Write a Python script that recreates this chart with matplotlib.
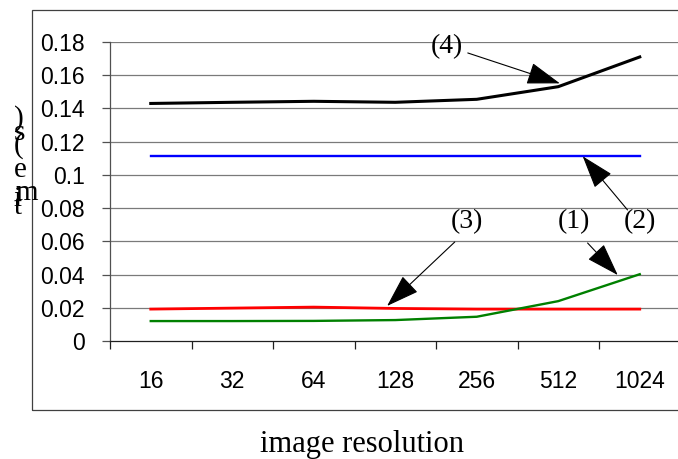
import matplotlib
matplotlib.use("Agg")
import matplotlib.pyplot as plt
from matplotlib.patches import Rectangle

# Data
resolutions = ["16", "32", "64", "128", "256", "512", "1024"]
series_1 = [0.0120, 0.0120, 0.0121, 0.0126, 0.0146, 0.0240, 0.0402]   # green
series_2 = [0.1112, 0.1112, 0.1112, 0.1112, 0.1112, 0.1112, 0.1112]   # blue
series_3 = [0.0192, 0.0198, 0.0204, 0.0196, 0.0192, 0.0192, 0.0192]   # red
series_4 = [0.1430, 0.1437, 0.1443, 0.1437, 0.1455, 0.1531, 0.1710]   # black
y_ticks = [0, 0.02, 0.04, 0.06, 0.08, 0.1, 0.12, 0.14, 0.16, 0.18]
y_tick_labels = ["0", "0.02", "0.04", "0.06", "0.08", "0.1", "0.12", "0.14", "0.16", "0.18"]

W, H = 678, 459
fig = plt.figure(figsize=(W / 100, H / 100), dpi=100)

# outer chart frame (runs off the right edge)
fig.patches.append(Rectangle((32 / W, (H - 410) / H), 1.2, 400 / H,
                             transform=fig.transFigure, fill=False,
                             edgecolor="#404040", linewidth=0.9))

ax = fig.add_axes([110 / W, (H - 341) / H, 570.5 / W, 299 / H])
ax.set_facecolor("none")
x = list(range(len(resolutions)))

for v in y_ticks[1:]:
    ax.axhline(v, color="#7a7a7a", linewidth=0.9, zorder=1)

ax.plot(x, series_4, color="black", linewidth=2.2, zorder=3)
ax.plot(x, series_2, color="#0000ff", linewidth=1.7, zorder=3)
ax.plot(x, series_3, color="#ff0000", linewidth=2.0, zorder=3)
ax.plot(x, series_1, color="#008000", linewidth=1.7, zorder=4)

ax.set_xlim(-0.5, len(resolutions) - 0.5)
ax.set_ylim(0, 0.18)

for s in ("top", "right"):
    ax.spines[s].set_visible(False)
ax.spines["left"].set_color("#505050")
ax.spines["bottom"].set_color("#202020")
ax.spines["left"].set_linewidth(0.9)
ax.spines["bottom"].set_linewidth(0.9)

tick_font = dict(family="Liberation Sans", size=16.5)
ax.set_yticks(y_ticks)
ax.set_yticklabels(y_tick_labels, **tick_font)
ax.tick_params(axis="y", direction="out", length=6, width=0.9, color="#505050", pad=12)

ax.set_xticks(x)
ax.set_xticklabels(resolutions, **tick_font)
ax.tick_params(axis="x", which="major", length=0, pad=21)
ax.set_xticks([i - 0.5 for i in x], minor=True)
ax.tick_params(axis="x", which="minor", direction="out", length=6, width=0.9, color="#202020")

# series callouts
serif = dict(family="Liberation Serif", size=20)
arrow = dict(arrowstyle="-|>,head_length=2.1,head_width=0.7", mutation_scale=10,
             color="black", linewidth=0.8, shrinkA=0, shrinkB=0)

ax.text(3.63, 0.1770, "(4)", ha="center", va="center", **serif)
ax.annotate("", xy=(5.02, series_4[5] + 0.002), xytext=(3.89, 0.1734), arrowprops=arrow)

ax.text(6.0, 0.0716, "(2)", ha="center", va="center", **serif)
ax.annotate("", xy=(5.3, series_2[5]), xytext=(5.85, 0.0789), arrowprops=arrow)

ax.text(5.19, 0.0716, "(1)", ha="center", va="center", **serif)
ax.annotate("", xy=(5.73, 0.0397), xytext=(5.36, 0.0590), arrowprops=arrow)

ax.text(3.88, 0.0716, "(3)", ha="center", va="center", **serif)
ax.annotate("", xy=(2.9, series_3[3] + 0.0015), xytext=(3.73, 0.0596), arrowprops=arrow)

# axis titles
fig.text(362 / W, (H - 452) / H, "image resolution", ha="center", va="baseline",
         family="Liberation Serif", size=22)

# vertical y title, glyphs stacked upright
ylab = [(")", 19, 119), ("s", 19, 133), ("(", 19, 146), ("e", 20, 170),
        ("m", 27, 193), ("i", 17, 199), ("t", 18, 207)]
for ch, px, py in ylab:
    fig.text(px / W, (H - py) / H, ch, ha="center", va="center",
             family="Liberation Serif", size=21)

fig.savefig("out.png", dpi=100)
